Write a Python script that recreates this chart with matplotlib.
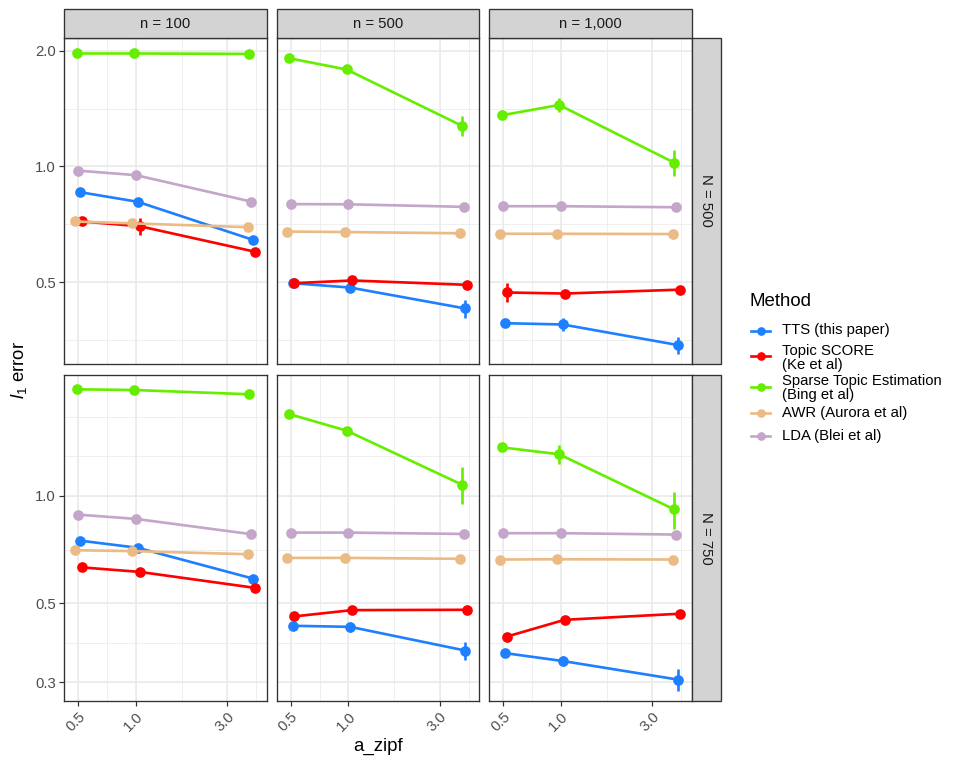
import numpy as np
import matplotlib
matplotlib.use("Agg")
import matplotlib.pyplot as plt
from matplotlib.lines import Line2D
from matplotlib.patches import Rectangle

plt.rcParams['font.family'] = ['Liberation Sans', 'DejaVu Sans']
plt.rcParams['mathtext.fontset'] = 'custom'
plt.rcParams['mathtext.it'] = 'Liberation Sans:italic'
plt.rcParams['mathtext.rm'] = 'Liberation Sans'

# ---------------- data ----------------
a_zipf = [0.5, 1.0, 4.0]
methods = ["TTS (this paper)", "Topic SCORE\n(Ke et al)",
           "Sparse Topic Estimation\n(Bing et al)", "AWR (Aurora et al)",
           "LDA (Blei et al)"]
colors = ["#1F80FF", "#FF0000", "#66EE00", "#EBBB85", "#C3A6C9"]
n_labels = ["n = 100", "n = 500", "n = 1,000"]
N_labels = ["N = 500", "N = 750"]
x_ticks = [0.5, 1.0, 3.0]
x_ticklabels = ["0.5", "1.0", "3.0"]
y_ticks_N500 = [0.5, 1.0, 2.0]
y_ticks_N750 = [0.3, 0.5, 1.0]

# mean l1 error: rows = n (100, 500, 1000), cols = a_zipf
tts_N500 = [[0.857, 0.809, 0.644], [0.497, 0.484, 0.427], [0.391, 0.388, 0.343]]
ts_N500 = [[0.719, 0.699, 0.600], [0.497, 0.505, 0.492], [0.470, 0.467, 0.478]]
ste_N500 = [[1.967, 1.967, 1.962], [1.912, 1.787, 1.276], [1.358, 1.445, 1.022]]
awr_N500 = [[0.719, 0.711, 0.695], [0.677, 0.675, 0.670], [0.668, 0.668, 0.667]]
lda_N500 = [[0.975, 0.949, 0.810], [0.798, 0.797, 0.785], [0.788, 0.788, 0.783]]

tts_N750 = [[0.749, 0.715, 0.586], [0.432, 0.429, 0.368], [0.362, 0.344, 0.305]]
ts_N750 = [[0.630, 0.612, 0.552], [0.459, 0.478, 0.479], [0.403, 0.449, 0.467]]
ste_N750 = [[1.992, 1.983, 1.929], [1.698, 1.525, 1.076], [1.369, 1.309, 0.916]]
awr_N750 = [[0.704, 0.700, 0.686], [0.670, 0.670, 0.666], [0.663, 0.664, 0.663]]
lda_N750 = [[0.886, 0.862, 0.781], [0.789, 0.789, 0.782], [0.786, 0.786, 0.779]]

# error bar half widths
tts_err_N500 = [[0.005, 0.008, 0.010], [0.008, 0.005, 0.023], [0.005, 0.015, 0.018]]
ts_err_N500 = [[0.015, 0.035, 0.005], [0.005, 0.005, 0.005], [0.027, 0.005, 0.005]]
ste_err_N500 = [[0.010, 0.010, 0.010], [0.010, 0.010, 0.079], [0.010, 0.060, 0.080]]
awr_err_N500 = [[0.005, 0.005, 0.005], [0.005, 0.005, 0.005], [0.005, 0.005, 0.005]]
lda_err_N500 = [[0.005, 0.005, 0.005], [0.005, 0.005, 0.005], [0.005, 0.005, 0.005]]

tts_err_N750 = [[0.005, 0.005, 0.005], [0.005, 0.014, 0.021], [0.005, 0.011, 0.021]]
ts_err_N750 = [[0.005, 0.005, 0.005], [0.005, 0.005, 0.005], [0.005, 0.005, 0.005]]
ste_err_N750 = [[0.010, 0.010, 0.010], [0.010, 0.040, 0.126], [0.010, 0.081, 0.110]]
awr_err_N750 = [[0.005, 0.005, 0.005], [0.005, 0.005, 0.005], [0.005, 0.005, 0.005]]
lda_err_N750 = [[0.005, 0.005, 0.005], [0.005, 0.005, 0.005], [0.005, 0.005, 0.005]]

values = [[tts_N500, ts_N500, ste_N500, awr_N500, lda_N500],
          [tts_N750, ts_N750, ste_N750, awr_N750, lda_N750]]
errors = [[tts_err_N500, ts_err_N500, ste_err_N500, awr_err_N500, lda_err_N500],
          [tts_err_N750, ts_err_N750, ste_err_N750, awr_err_N750, lda_err_N750]]
y_ticks = [y_ticks_N500, y_ticks_N750]

# ---------------- layout ----------------
W, H = 962, 766
DPI = 96
fig = plt.figure(figsize=(W / DPI, H / DPI), dpi=DPI)

col_left = [64.3, 276.7, 489.3]
col_w = 202.6
row_top = [38.0, 375.0]
row_h = 325.8
ylims = [(0.3066, 2.158), (0.266, 2.185)]
xlim = (0.4222, 4.83)
dodge_step = 0.0095  # decades
dodge_rank = [1, 2, -1, -2, 0]

grid_col = "#EBEBEB"
border_col = "#333333"
strip_fill = "#D3D3D3"
txt_col = "#4D4D4D"
FS_SMALL = 11.2
FS_BIG = 14.0
LW = 2.0
MS = 8.0


def minor_breaks(b, lims):
    b = list(np.log10(b))
    lo, hi = np.log10(lims[0]), np.log10(lims[1])
    bd = b[1] - b[0]
    if lo < b[0]:
        b = [b[0] - bd] + b
    if hi > b[-1]:
        b = b + [b[-1] + bd]
    out = []
    for a, c in zip(b[:-1], b[1:]):
        out += [a, (a + c) / 2]
    out.append(b[-1])
    return [10 ** v for v in out if lo < v < hi]


def fr(x, y, w, h):
    return [x / W, 1 - (y + h) / H, w / W, h / H]


for r in range(2):
    for c in range(3):
        ax = fig.add_axes(fr(col_left[c], row_top[r], col_w, row_h))
        ax.set_xscale('log')
        ax.set_yscale('log')
        ax.set_xlim(*xlim)
        ax.set_ylim(*ylims[r])
        ax.set_facecolor('white')
        # grid
        for v in minor_breaks(x_ticks, xlim):
            ax.axvline(v, color=grid_col, lw=0.6, zorder=0)
        for v in minor_breaks(y_ticks[r], ylims[r]):
            ax.axhline(v, color=grid_col, lw=0.6, zorder=0)
        for v in x_ticks:
            ax.axvline(v, color=grid_col, lw=1.2, zorder=0)
        for v in y_ticks[r]:
            ax.axhline(v, color=grid_col, lw=1.2, zorder=0)

        for m in range(5):
            xs = [x * 10 ** (dodge_rank[m] * dodge_step) for x in a_zipf]
            ys = values[r][m][c]
            es = errors[r][m][c]
            ax.plot(xs, ys, color=colors[m], lw=LW, zorder=3 + m * 0.1,
                    solid_capstyle='butt')
            ax.vlines(xs, [y - e for y, e in zip(ys, es)],
                      [y + e for y, e in zip(ys, es)], color=colors[m],
                      lw=LW, zorder=3 + m * 0.1)
            ax.plot(xs, ys, 'o', color=colors[m], ms=MS, mec='none',
                    zorder=3.05 + m * 0.1)

        ax.minorticks_off()
        ax.set_xticks(x_ticks)
        ax.set_yticks(y_ticks[r])
        ax.tick_params(axis='both', which='major', length=3.7, width=0.9,
                       color=border_col, labelcolor=txt_col,
                       labelsize=FS_SMALL, pad=2.5)
        if r == 1:
            ax.set_xticklabels(x_ticklabels, rotation=45, ha='right',
                               va='top', rotation_mode='anchor')
        else:
            ax.tick_params(axis='x', length=0, labelbottom=False)
        if c == 0:
            ax.set_yticklabels([f"{v:.1f}" for v in y_ticks[r]])
        else:
            ax.tick_params(axis='y', length=0, labelleft=False)
        for s in ax.spines.values():
            s.set_color(border_col)
            s.set_linewidth(1.0)
            s.set_zorder(10)

# strips
for c in range(3):
    fig.patches.append(Rectangle((col_left[c] / W, 1 - 37.8 / H),
                                 col_w / W, 28.5 / H, transform=fig.transFigure,
                                 facecolor=strip_fill, edgecolor=border_col,
                                 lw=1.0))
    fig.text((col_left[c] + col_w / 2) / W, 1 - 23.8 / H, n_labels[c],
             ha='center', va='center', fontsize=FS_SMALL, color="#1A1A1A")
for r in range(2):
    x0 = col_left[2] + col_w
    fig.patches.append(Rectangle((x0 / W, 1 - (row_top[r] + row_h) / H),
                                 29.0 / W, row_h / H, transform=fig.transFigure,
                                 facecolor=strip_fill, edgecolor=border_col,
                                 lw=1.0))
    fig.text((x0 + 14.5) / W, 1 - (row_top[r] + row_h / 2) / H, N_labels[r],
             ha='center', va='center', rotation=-90, fontsize=FS_SMALL,
             color="#1A1A1A")

# axis titles
fig.text((col_left[0] + col_left[2] + col_w) / 2 / W, 1 - 746 / H, "a_zipf",
         ha='center', va='center', fontsize=FS_BIG, color='black')
fig.text(19 / W, 1 - 369.5 / H, r"$l_1$ error", ha='center', va='center',
         rotation=90, fontsize=FS_BIG, color='black')

# legend
fig.text(749.5 / W, 1 - 301.5 / H, "Method", ha='left', va='center',
         fontsize=FS_BIG, color='black')
key_y = [331, 356, 387, 413.3, 436]
text_y = [330, 358, 388, 413, 436]
for m in range(5):
    yy = 1 - key_y[m] / H
    fig.add_artist(Line2D([751 / W, 770 / W], [yy, yy], color=colors[m],
                          lw=LW, transform=fig.transFigure))
    fig.add_artist(Line2D([760.5 / W], [yy], marker='o', ms=6.5,
                          color=colors[m], mec='none',
                          transform=fig.transFigure))
    fig.text(781.5 / W, 1 - text_y[m] / H, methods[m], ha='left',
             va='center', fontsize=FS_SMALL, color='black', linespacing=1.08)

fig.savefig("out.png", dpi=DPI, facecolor='white')
